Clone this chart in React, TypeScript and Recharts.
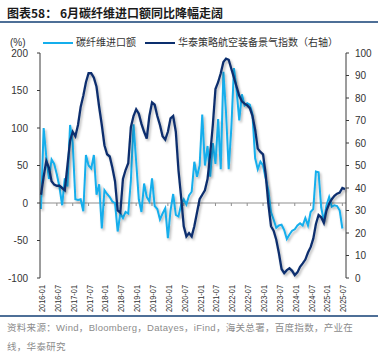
import { LineChart, Line, XAxis, YAxis, ReferenceLine } from "recharts";

// monthly categories 2016-01 .. 2025-08
const months: string[] = [];
for (let y = 2016; y <= 2025; y++) {
  for (let m = 1; m <= 12; m++) {
    if (y === 2025 && m > 8) break;
    months.push(`${y}-${String(m).padStart(2, "0")}`);
  }
}

const xTicks = [
  "2016-01", "2016-07", "2017-01", "2017-07", "2018-01", "2018-07", "2019-01",
  "2019-07", "2020-01", "2020-07", "2021-01", "2021-07", "2022-01", "2022-07",
  "2023-01", "2023-07", "2024-01", "2024-07", "2025-01", "2025-07",
];

const leftTicks = [-100, -50, 0, 50, 100, 150, 200];
const rightTicks = [0, 10, 20, 30, 40, 50, 60, 70, 80, 90, 100];

// 碳纤维进口额 yoy (%), left axis
const carbonFiber = [
  -8, 100, 62, 32, 58, 52, 38, 21, -3, 33,
  22, 104, 80, 5, 4, 5, -11, 64, 50, 46,
  64, 11, 25, -34, 17, 12, 8, 2, 0, -38,
  -14, -20, -12, -14, 30, 105, 55, 5, -12, 26,
  8, 2, 33, -4, -8, -22, -14, -7, -47, -10,
  12, -16, -18, -2, 5, -2, 10, 15, 55, 35,
  50, 118, 50, 76, 35, 80, 52, 112, 45, 175,
  120, 45, 100, 180, 150, 110, 145, 130, 133, 131,
  118, 60, 45, 55, 50, 33, 17, -12, -22, -33,
  -30, -29, -36, -48, -42, -37, -35, -30, -27, -30,
  -20, -30, -12, -8, 42, 41, -6, -24, -3, 8,
  -5, -3, -4, -10, -34,
];

// 华泰策略航空装备景气指数, right axis
const aeroIndex = [
  37, 45, 52, 49, 43, 41.5, 41, 41, 40, 39,
  50, 61, 65, 63, 68, 76, 81, 87, 91, 91,
  89, 85, 76, 68, 59, 55, 54, 49, 43, 30,
  29, 44, 48, 51, 67, 72, 75, 73, 68.5, 65,
  62, 72, 78, 77, 72, 68, 63, 61.5, 65, 71,
  72, 65, 48, 36, 23, 18.5, 20, 18.5, 23, 29,
  35, 37, 39, 44, 55, 68, 84, 87, 91, 96,
  97.5, 97, 93, 89, 85, 81, 78.5, 77.5, 76.8, 75.5,
  72, 66, 57.5, 56, 55, 46, 33, 23, 21, 17,
  11, 4, 2.2, 3.5, 4.3, 3.2, 1.3, 2.5, 5, 6.5,
  8.2, 11.3, 13.7, 17.5, 24, 28, 27, 24.5, 30, 33,
  35, 36.5, 37.5, 38, 40, 39.5,
];

const data = months.map((month, i) => ({
  month,
  carbon: i < carbonFiber.length ? carbonFiber[i] : null,
  aero: aeroIndex[i],
}));

const LIGHT = "#14aeec";
const DARK = "#0c2f6e";
const FONT = '"Liberation Sans", Arial, "Noto Sans CJK SC", sans-serif';

function MonthTick(props: any) {
  const { x, y, payload } = props;
  const bx = x + 4;
  const by = y - 1;
  return (
    <text
      x={bx}
      y={by}
      transform={`rotate(-90 ${bx} ${by})`}
      textAnchor="end"
      fontSize={9}
      textLength={27}
      lengthAdjust="spacingAndGlyphs"
      fill="#333"
      fontFamily={FONT}
    >
      {payload.value}
    </text>
  );
}

export default function App() {
  return (
    <div style={wrapStyle}>
      <div style={titleStyle}>图表58： 6月碳纤维进口额同比降幅走阔</div>
      <div style={{ ...ruleStyle, top: 21 }} />

      <div style={{ ...legendText, left: 10 }}>(%)</div>
      <div style={{ ...swatch, left: 43, background: LIGHT }} />
      <div style={{ ...legendText, left: 76 }}>碳纤维进口额</div>
      <div style={{ ...swatch, left: 145, background: DARK }} />
      <div style={{ ...legendText, left: 178 }}>华泰策略航空装备景气指数（右轴）</div>

      <div style={{ position: "absolute", left: 0, top: 0 }}>
        <LineChart
          width={384}
          height={316}
          data={data}
          margin={{ top: 53, right: 0, bottom: 0, left: 0 }}
        >
          <defs>
            <filter id="shade" x="-5%" y="-5%" width="110%" height="120%">
              <feDropShadow dx="1.5" dy="2" stdDeviation="1.2" floodColor="#000" floodOpacity="0.28" />
            </filter>
          </defs>
          <XAxis
            dataKey="month"
            ticks={xTicks}
            interval={0}
            height={38}
            tickLine={false}
            axisLine={false}
            tick={<MonthTick />}
            padding={{ left: 1, right: 1 }}
          />
          <YAxis
            yAxisId="left"
            domain={[-100, 200]}
            ticks={leftTicks}
            width={40}
            tickSize={3}
            tickMargin={9}
            stroke="#3a3a3a"
            tick={{ fontSize: 10, fill: "#333", fontFamily: FONT }}
          />
          <YAxis
            yAxisId="right"
            orientation="right"
            domain={[0, 100]}
            ticks={rightTicks}
            width={38}
            tickSize={3}
            tickMargin={6}
            stroke="#3a3a3a"
            tick={{ fontSize: 10, fill: "#333", fontFamily: FONT }}
          />
          <ReferenceLine yAxisId="left" y={0} stroke="#8f8f8f" strokeWidth={1} />
          {xTicks.map((t) => (
            <ReferenceLine
              key={t}
              yAxisId="left"
              segment={[
                { x: t, y: 0 },
                { x: t, y: -4 },
              ]}
              stroke="#8f8f8f"
            />
          ))}
          <Line
            yAxisId="left"
            dataKey="carbon"
            stroke={LIGHT}
            strokeWidth={2}
            dot={false}
            filter="url(#shade)"
            isAnimationActive={false}
          />
          <Line
            yAxisId="right"
            dataKey="aero"
            stroke={DARK}
            strokeWidth={2.3}
            dot={false}
            filter="url(#shade)"
            isAnimationActive={false}
          />
        </LineChart>
      </div>

      <div style={{ ...ruleStyle, top: 315 }} />
      <div style={{ ...footStyle, top: 319 }}>
        资料来源：Wind，Bloomberg，Datayes，iFind，海关总署，百度指数，产业在
      </div>
      <div style={{ ...footStyle, top: 338 }}>线，华泰研究</div>
    </div>
  );
}

const wrapStyle: React.CSSProperties = {
  position: "absolute",
  left: 0,
  top: 0,
  width: 384,
  height: 360,
  background: "#fff",
  overflow: "hidden",
  fontFamily: FONT,
};

const titleStyle: React.CSSProperties = {
  position: "absolute",
  left: 7,
  top: 5,
  fontSize: 12,
  lineHeight: "16px",
  fontWeight: 700,
  color: "#1a1a1a",
  fontFamily: '"Noto Sans CJK SC", sans-serif',
  whiteSpace: "nowrap",
};

const ruleStyle: React.CSSProperties = {
  position: "absolute",
  left: 0,
  width: 378,
  height: 1.5,
  background: "#4e6f97",
};

const legendText: React.CSSProperties = {
  position: "absolute",
  top: 36,
  fontSize: 10,
  lineHeight: "14px",
  color: "#333",
  whiteSpace: "nowrap",
};

const swatch: React.CSSProperties = {
  position: "absolute",
  top: 42,
  width: 30,
  height: 2,
};

const footStyle: React.CSSProperties = {
  position: "absolute",
  left: 7,
  fontSize: 9.5,
  letterSpacing: 0.3,
  lineHeight: "18px",
  color: "#8c8c8c",
  whiteSpace: "nowrap",
};
